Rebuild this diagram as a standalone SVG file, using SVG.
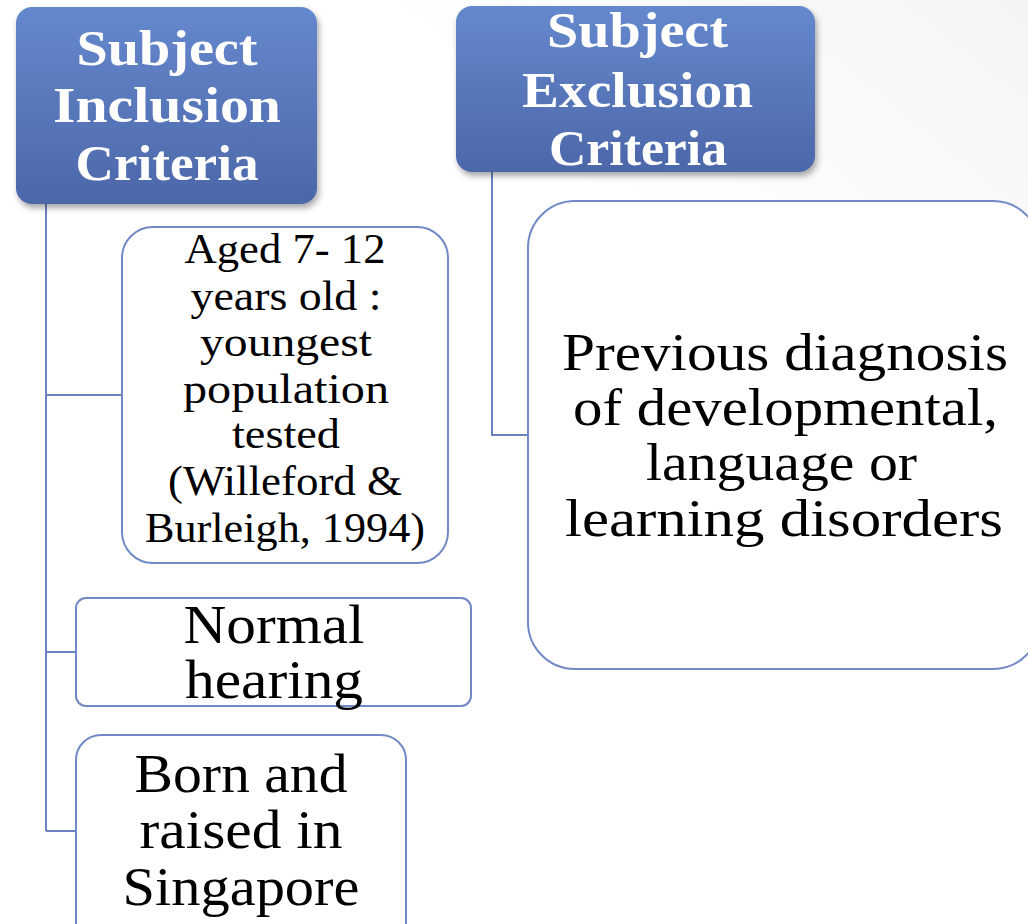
<svg xmlns="http://www.w3.org/2000/svg" width="1028" height="924" viewBox="0 0 1028 924">
<defs>
<linearGradient id="bg" x1="1028" y1="0" x2="760" y2="330" gradientUnits="userSpaceOnUse">
<stop offset="0" stop-color="#f4f4f4"/>
<stop offset="1" stop-color="#ffffff"/>
</linearGradient>
<linearGradient id="hdr" x1="0" y1="0" x2="0" y2="1">
<stop offset="0" stop-color="#6588cd"/>
<stop offset="1" stop-color="#4c67a9"/>
</linearGradient>
<filter id="sh" x="-10%" y="-10%" width="130%" height="130%">
<feDropShadow dx="2" dy="4" stdDeviation="3" flood-color="#000" flood-opacity="0.35"/>
</filter>
</defs>
<style>
.hdr{fill:url(#hdr);filter:url(#sh)}
.box{fill:#ffffff;stroke:#7189c5;stroke-width:2}
.conn{fill:none;stroke:#6a82bf;stroke-width:2}
.ht{font-family:"Liberation Serif",serif;font-weight:bold;font-size:50px;fill:#ffffff;text-anchor:middle}
.bt{font-family:"Liberation Serif",serif;font-size:55px;fill:#000000;text-anchor:middle}
.dt{font-family:"Liberation Serif",serif;font-size:53px;fill:#000000;text-anchor:middle}
.st{font-family:"Liberation Serif",serif;font-size:42px;fill:#000000;text-anchor:middle}
</style>
<rect x="0" y="0" width="1028" height="924" fill="url(#bg)"/>
<g id="connectors">
<path class="conn" d="M46 204 V831 M46 395 H122 M46 652 H76 M46 831 H76"/>
<path class="conn" d="M492 172 V435 H528"/>
</g>
<g id="inclusion-header">
<rect class="hdr" x="16" y="7" width="301" height="197" rx="16"/>
<text class="ht" x="167" y="65" textLength="181" lengthAdjust="spacingAndGlyphs">Subject</text>
<text class="ht" x="167" y="122" textLength="228" lengthAdjust="spacingAndGlyphs">Inclusion</text>
<text class="ht" x="167" y="180" textLength="183" lengthAdjust="spacingAndGlyphs">Criteria</text>
</g>
<g id="exclusion-header">
<rect class="hdr" x="456" y="6" width="359" height="166" rx="16"/>
<text class="ht" x="637.5" y="47" textLength="181" lengthAdjust="spacingAndGlyphs">Subject</text>
<text class="ht" x="637.5" y="107" textLength="231" lengthAdjust="spacingAndGlyphs">Exclusion</text>
<text class="ht" x="638" y="165" textLength="178" lengthAdjust="spacingAndGlyphs">Criteria</text>
</g>
<g id="age">
<rect class="box" x="122" y="227" width="326" height="336" rx="31"/>
<text class="st" x="285" y="263" textLength="201" lengthAdjust="spacingAndGlyphs">Aged 7- 12</text>
<text class="st" x="286" y="310" textLength="191" lengthAdjust="spacingAndGlyphs">years old :</text>
<text class="st" x="286" y="356" textLength="172" lengthAdjust="spacingAndGlyphs">youngest</text>
<text class="st" x="286" y="403" textLength="206" lengthAdjust="spacingAndGlyphs">population</text>
<text class="st" x="286" y="448" textLength="108" lengthAdjust="spacingAndGlyphs">tested</text>
<text class="st" x="285" y="495" textLength="234" lengthAdjust="spacingAndGlyphs">(Willeford &amp;</text>
<text class="st" x="285" y="542" textLength="280" lengthAdjust="spacingAndGlyphs">Burleigh, 1994)</text>
</g>
<g id="hearing">
<rect class="box" x="76" y="598" width="395" height="108" rx="10"/>
<text class="bt" x="274" y="643" textLength="181" lengthAdjust="spacingAndGlyphs">Normal</text>
<text class="bt" x="274" y="698" textLength="178" lengthAdjust="spacingAndGlyphs">hearing</text>
</g>
<g id="singapore">
<rect class="box" x="76" y="735" width="330" height="220" rx="25"/>
<text class="bt" x="241" y="792" textLength="213" lengthAdjust="spacingAndGlyphs">Born and</text>
<text class="bt" x="241" y="848" textLength="203" lengthAdjust="spacingAndGlyphs">raised in</text>
<text class="bt" x="241" y="905" textLength="237" lengthAdjust="spacingAndGlyphs">Singapore</text>
</g>
<g id="exclusion">
<rect class="box" x="528" y="201" width="512" height="468" rx="47"/>
<text class="dt" x="785" y="370" textLength="446" lengthAdjust="spacingAndGlyphs">Previous diagnosis</text>
<text class="dt" x="785.5" y="425" textLength="425" lengthAdjust="spacingAndGlyphs">of developmental,</text>
<text class="dt" x="781.5" y="480" textLength="271" lengthAdjust="spacingAndGlyphs">language or</text>
<text class="dt" x="784" y="536" textLength="438" lengthAdjust="spacingAndGlyphs">learning disorders</text>
</g>
</svg>
